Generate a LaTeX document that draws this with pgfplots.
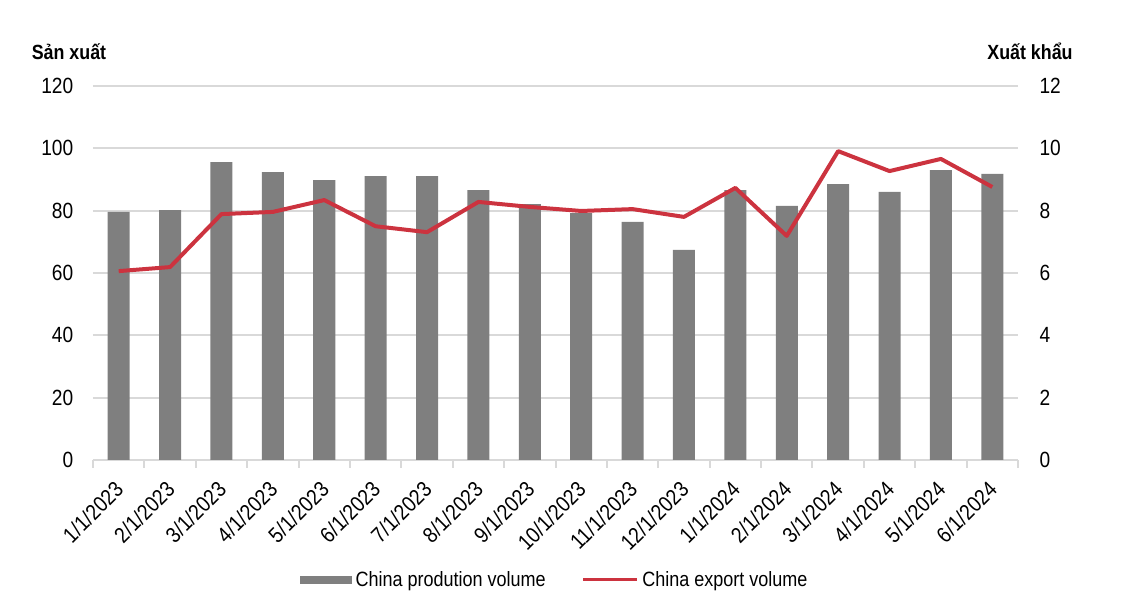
\documentclass[border=0pt]{standalone}
\usepackage{fontspec}
\setmainfont{Liberation Sans}[FakeStretch=0.87]
\usepackage{pgfplots}
\pgfplotsset{compat=1.18}
\definecolor{barg}{RGB}{127,127,127}
\definecolor{linered}{RGB}{204,51,63}
\definecolor{gridg}{RGB}{217,217,217}
\begin{document}
\begin{tikzpicture}
\useasboundingbox (-93pt,-144pt) rectangle (1035pt,460pt);
\begin{axis}[
  scale only axis, width=925pt, height=374pt,
  xmin=-0.5, xmax=17.5, ymin=0, ymax=120,
  ytick={0,20,...,120},
  xtick={0,...,17},
  xticklabels={1/1/2023,2/1/2023,3/1/2023,4/1/2023,5/1/2023,6/1/2023,7/1/2023,8/1/2023,9/1/2023,10/1/2023,11/1/2023,12/1/2023,1/1/2024,2/1/2024,3/1/2024,4/1/2024,5/1/2024,6/1/2024},
  minor xtick={-0.5,0.5,...,17.5},
  axis x line*=bottom, axis y line*=left,
  x axis line style={draw=gridg, line width=2pt},
  y axis line style={draw=none},
  ytick style={draw=none},
  major x tick style={draw=none},
  minor x tick style={draw=gridg, line width=2pt},
  minor tick length=8pt, tick align=outside,
  ymajorgrids, grid style={draw=gridg, line width=2pt},
  /pgf/number format/assume math mode=true,
  ticklabel style={font=\fontsize{22}{26}\selectfont},
  yticklabel style={xshift=-12pt},
  xticklabel style={xshift=3pt, yshift=-19pt, rotate=45, anchor=east},
  legend style={at={(0.5,-0.32)}, anchor=center, draw=none, fill=none,
    font=\fontsize{20.7}{25}\selectfont, legend columns=2,
    nodes={inner sep=3.5pt},
    /tikz/every even column/.append style={column sep=32pt}},
]
\addplot[ybar, bar width=22pt, fill=barg, draw=none,
  legend image code/.code={\fill[barg] (0pt,-4pt) rectangle (52pt,4pt);}]
  coordinates {(0,79.6) (1,80.2) (2,95.6) (3,92.4) (4,89.8) (5,91.1) (6,91.1) (7,86.6) (8,82.1) (9,79.2) (10,76.4) (11,67.4) (12,86.6) (13,81.5) (14,88.5) (15,86.0) (16,93.0) (17,91.8)};
\addlegendentry{China prodution volume}
\addlegendimage{legend image code/.code={\draw[linered, line width=3.5pt] (0pt,0pt) -- (54pt,0pt);}}
\addlegendentry{China export volume}
\end{axis}
\begin{axis}[
  scale only axis, width=925pt, height=374pt,
  xmin=-0.5, xmax=17.5, ymin=0, ymax=12,
  ytick={0,2,...,12},
  axis x line=none, axis y line*=right,
  y axis line style={draw=none},
  ytick style={draw=none},
  /pgf/number format/assume math mode=true,
  ticklabel style={font=\fontsize{22}{26}\selectfont},
  yticklabel style={xshift=18pt},
]
\addplot[linered, line width=4pt, line join=round, mark=none]
  coordinates {(0,6.06) (1,6.19) (2,7.89) (3,7.96) (4,8.34) (5,7.50) (6,7.31) (7,8.28) (8,8.12) (9,7.99) (10,8.05) (11,7.80) (12,8.73) (13,7.19) (14,9.91) (15,9.27) (16,9.66) (17,8.76)};
\end{axis}
\node[font=\bfseries\fontsize{20.5}{25}\selectfont] at (-24pt,408pt) {Sản xuất};
\node[font=\bfseries\fontsize{20.5}{25}\selectfont] at (937pt,409pt) {Xuất khẩu};
\end{tikzpicture}
\end{document}
